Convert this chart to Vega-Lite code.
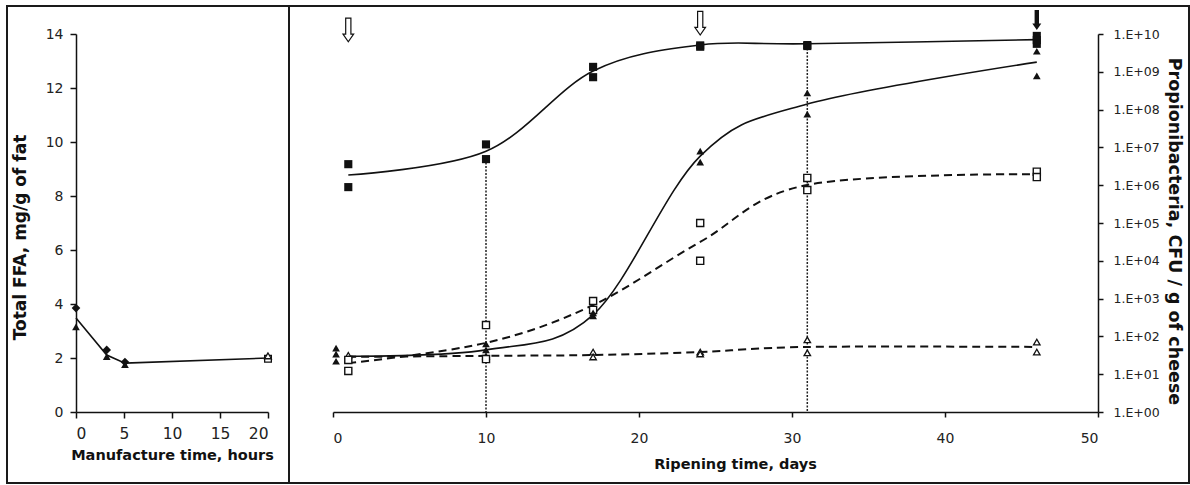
{
  "$schema": "https://vega.github.io/schema/vega-lite/v6.json",
  "padding": {"left": 6, "top": 5, "right": 0, "bottom": 0},
  "background": "white",
  "config": {
    "font": "DejaVu Sans",
    "view": {"stroke": "#1a1a1a", "strokeWidth": 2},
    "axis": {"grid": false, "domainColor": "#111", "tickColor": "#111", "labelColor": "#222", "titleColor": "#111", "domainWidth": 1.5, "tickWidth": 1.5, "titleFontWeight": "bold", "labelFont": "DejaVu Sans", "titleFont": "DejaVu Sans"}
  },
  "datasets": {
    "manuLine": [
      {"hours": 0, "ffa": 3.48},
      {"hours": 3.2, "ffa": 2.11},
      {"hours": 5.1, "ffa": 1.81},
      {"hours": 20, "ffa": 2.0}
    ],
    "manuPts": [
      {"hours": 0, "ffa": 3.85, "s": "A"},
      {"hours": 0, "ffa": 3.15, "s": "B"},
      {"hours": 3.2, "ffa": 2.3, "s": "A"},
      {"hours": 3.2, "ffa": 2.05, "s": "B"},
      {"hours": 5.1, "ffa": 1.85, "s": "A"},
      {"hours": 5.1, "ffa": 1.75, "s": "B"},
      {"hours": 20, "ffa": 1.97, "s": "C"},
      {"hours": 20, "ffa": 2.08, "s": "D"}
    ],
    "sqCurve": [
      {"day": 1, "cfu": 1.86e6},
      {"day": 10, "cfu": 7.9e6},
      {"day": 17, "cfu": 1.05e9},
      {"day": 24, "cfu": 5.1e9},
      {"day": 31, "cfu": 5.5e9},
      {"day": 46, "cfu": 7.1e9}
    ],
    "sqPts": [
      {"day": 1, "cfu": 3.6e6}, {"day": 1, "cfu": 8.9e5},
      {"day": 10, "cfu": 1.2e7}, {"day": 10, "cfu": 4.9e6},
      {"day": 17, "cfu": 1.35e9}, {"day": 17, "cfu": 7.2e8},
      {"day": 24, "cfu": 5.0e9}, {"day": 24, "cfu": 4.6e9},
      {"day": 31, "cfu": 5.1e9}, {"day": 31, "cfu": 4.8e9},
      {"day": 46, "cfu": 8.9e9}, {"day": 46, "cfu": 6.9e9}, {"day": 46, "cfu": 5.5e9}
    ],
    "trCurve": [
      {"day": 1, "cfu": 30},
      {"day": 10, "cfu": 44},
      {"day": 17, "cfu": 372},
      {"day": 24, "cfu": 5.9e6},
      {"day": 31, "cfu": 1.4e8},
      {"day": 46, "cfu": 1.8e9}
    ],
    "trPts": [
      {"day": 0.2, "cfu": 49}, {"day": 0.2, "cfu": 34}, {"day": 0.2, "cfu": 22},
      {"day": 10, "cfu": 63}, {"day": 10, "cfu": 44},
      {"day": 17, "cfu": 347}, {"day": 17, "cfu": 417},
      {"day": 24, "cfu": 8.0e6}, {"day": 24, "cfu": 4.1e6},
      {"day": 31, "cfu": 2.75e8}, {"day": 31, "cfu": 7.6e7},
      {"day": 46, "cfu": 3.5e9}, {"day": 46, "cfu": 7.8e8}
    ],
    "osCurve": [
      {"day": 1, "ffa": 1.81},
      {"day": 10, "ffa": 2.56},
      {"day": 17, "ffa": 3.96},
      {"day": 24, "ffa": 6.3},
      {"day": 31, "ffa": 8.41},
      {"day": 46, "ffa": 8.81}
    ],
    "osPts": [
      {"day": 1, "ffa": 1.93}, {"day": 1, "ffa": 1.52},
      {"day": 10, "ffa": 3.22}, {"day": 10, "ffa": 1.96},
      {"day": 17, "ffa": 4.11}, {"day": 17, "ffa": 3.78},
      {"day": 24, "ffa": 7.0}, {"day": 24, "ffa": 5.6},
      {"day": 31, "ffa": 8.67}, {"day": 31, "ffa": 8.22},
      {"day": 46, "ffa": 8.9}, {"day": 46, "ffa": 8.7}
    ],
    "otCurve": [
      {"day": 1, "ffa": 2.04},
      {"day": 10, "ffa": 2.08},
      {"day": 17, "ffa": 2.11},
      {"day": 24, "ffa": 2.22},
      {"day": 31, "ffa": 2.41},
      {"day": 46, "ffa": 2.41}
    ],
    "otPts": [
      {"day": 1, "ffa": 2.1}, {"day": 1, "ffa": 1.95},
      {"day": 10, "ffa": 2.05},
      {"day": 17, "ffa": 2.22}, {"day": 17, "ffa": 2.04},
      {"day": 24, "ffa": 2.22}, {"day": 24, "ffa": 2.15},
      {"day": 31, "ffa": 2.67}, {"day": 31, "ffa": 2.19},
      {"day": 46, "ffa": 2.59}, {"day": 46, "ffa": 2.22}
    ],
    "drops": [
      {"day": 10, "top": 4.9e6, "bottom": 1},
      {"day": 31, "top": 5.1e9, "bottom": 1}
    ],
    "arrows": [
      {"day": 1, "pos": 14.15, "kind": "open"},
      {"day": 24, "pos": 14.4, "kind": "open"},
      {"day": 46, "pos": 14.52, "kind": "filled"}
    ]
  },
  "spacing": 0,
  "bounds": "flush",
  "hconcat": [
    {
      "width": 282,
      "height": 477,
      "encoding": {
        "x": {"field": "hours", "type": "quantitative",
          "scale": {"domain": [0, 20], "range": [69, 261], "nice": false, "zero": false},
          "axis": {"title": "Manufacture time, hours", "offset": -71, "values": [0, 5, 10, 15, 20], "tickSize": 6, "labelPadding": 8, "labelFontSize": 15.5, "titleFontSize": 14.5, "titlePadding": 7}},
        "y": {"field": "ffa", "type": "quantitative",
          "scale": {"domain": [0, 14], "range": [406, 28], "nice": false, "zero": false},
          "axis": {"title": "Total FFA, mg/g of fat", "offset": -69, "values": [0, 2, 4, 6, 8, 10, 12, 14], "tickSize": 6, "labelPadding": 7, "labelFontSize": 14, "titleFontSize": 17, "titlePadding": 16, "titleY": 231}}
      },
      "layer": [
        {"data": {"name": "manuLine"}, "mark": {"type": "line", "color": "#111", "strokeWidth": 1.6}},
        {"data": {"name": "manuPts"}, "transform": [{"filter": "datum.s == 'A'"}],
          "mark": {"type": "point", "shape": "diamond", "filled": true, "color": "#111", "size": 75, "opacity": 1}},
        {"data": {"name": "manuPts"}, "transform": [{"filter": "datum.s == 'B'"}],
          "mark": {"type": "point", "shape": "triangle-up", "filled": true, "color": "#111", "size": 60, "opacity": 1}},
        {"data": {"name": "manuPts"}, "transform": [{"filter": "datum.s == 'C'"}],
          "mark": {"type": "point", "shape": "square", "filled": true, "fill": "white", "stroke": "#111", "strokeWidth": 1.3, "size": 45, "opacity": 1}},
        {"data": {"name": "manuPts"}, "transform": [{"filter": "datum.s == 'D'"}],
          "mark": {"type": "point", "shape": "triangle-up", "filled": true, "fill": "white", "stroke": "#111", "strokeWidth": 1.3, "size": 45, "opacity": 1}}
      ]
    },
    {
      "width": 900,
      "height": 477,
      "encoding": {
        "x": {"field": "day", "type": "quantitative",
          "scale": {"domain": [0, 50], "range": [44, 809], "nice": false, "zero": false},
          "axis": {"title": "Ripening time, days", "offset": -71, "values": [0, 10, 20, 30, 40, 50], "tickSize": 5, "labelPadding": 14, "labelFontSize": 14, "titleFontSize": 14.5, "titlePadding": 12, "titleX": 446}}
      },
      "layer": [
        {"data": {"name": "drops"},
          "mark": {"type": "rule", "color": "#222", "strokeWidth": 1.5, "strokeDash": [2, 1.5]},
          "encoding": {
            "y": {"field": "top", "type": "quantitative",
              "scale": {"type": "log", "domain": [1, 1e10], "range": [406, 28], "nice": false},
              "axis": {"title": "Propionibacteria, CFU / g of cheese", "orient": "right", "offset": -91,
                "values": [1, 10, 100, 1000, 10000, 100000, 1000000, 10000000, 100000000, 1000000000, 10000000000],
                "labelExpr": "'1.E+' + (round(log(datum.value)/LN10) < 10 ? '0' : '') + round(log(datum.value)/LN10)",
                "tickSize": 5, "labelPadding": 10, "labelFontSize": 12.5, "titleFontSize": 17.5, "titlePadding": 5, "titleY": 225}},
            "y2": {"field": "bottom"}
          }},
        {"data": {"name": "otCurve"},
          "mark": {"type": "line", "interpolate": "cardinal", "color": "#111", "strokeWidth": 2, "strokeDash": [8, 5]},
          "encoding": {"y": {"field": "ffa", "type": "quantitative", "scale": {"domain": [0, 14], "range": [406, 28], "nice": false, "zero": false}, "axis": null}}},
        {"data": {"name": "osCurve"},
          "mark": {"type": "line", "interpolate": "cardinal", "color": "#111", "strokeWidth": 2, "strokeDash": [8, 5]},
          "encoding": {"y": {"field": "ffa", "type": "quantitative", "scale": {"domain": [0, 14], "range": [406, 28], "nice": false, "zero": false}, "axis": null}}},
        {"data": {"name": "sqCurve"},
          "mark": {"type": "line", "interpolate": "cardinal", "color": "#111", "strokeWidth": 1.6},
          "encoding": {"y": {"field": "cfu", "type": "quantitative", "scale": {"type": "log", "domain": [1, 1e10], "range": [406, 28], "nice": false}, "axis": null}}},
        {"data": {"name": "trCurve"},
          "mark": {"type": "line", "interpolate": "cardinal", "color": "#111", "strokeWidth": 1.6},
          "encoding": {"y": {"field": "cfu", "type": "quantitative", "scale": {"type": "log", "domain": [1, 1e10], "range": [406, 28], "nice": false}, "axis": null}}},
        {"data": {"name": "otPts"},
          "mark": {"type": "point", "shape": "triangle-up", "filled": true, "fill": "white", "stroke": "#111", "strokeWidth": 1.3, "size": 42, "opacity": 1},
          "encoding": {"y": {"field": "ffa", "type": "quantitative", "scale": {"domain": [0, 14], "range": [406, 28], "nice": false, "zero": false}, "axis": null}}},
        {"data": {"name": "osPts"},
          "mark": {"type": "point", "shape": "square", "filled": true, "fill": "white", "stroke": "#111", "strokeWidth": 1.4, "size": 50, "opacity": 1},
          "encoding": {"y": {"field": "ffa", "type": "quantitative", "scale": {"domain": [0, 14], "range": [406, 28], "nice": false, "zero": false}, "axis": null}}},
        {"data": {"name": "sqPts"},
          "mark": {"type": "point", "shape": "square", "filled": true, "color": "#111", "size": 66, "opacity": 1},
          "encoding": {"y": {"field": "cfu", "type": "quantitative", "scale": {"type": "log", "domain": [1, 1e10], "range": [406, 28], "nice": false}, "axis": null}}},
        {"data": {"name": "trPts"},
          "mark": {"type": "point", "shape": "triangle-up", "filled": true, "color": "#111", "size": 60, "opacity": 1},
          "encoding": {"y": {"field": "cfu", "type": "quantitative", "scale": {"type": "log", "domain": [1, 1e10], "range": [406, 28], "nice": false}, "axis": null}}},
        {"data": {"name": "arrows"}, "transform": [{"filter": "datum.kind == 'open'"}],
          "mark": {"type": "point", "shape": "M-0.22,-1L0.22,-1L0.22,0.35L0.45,0.35L0,1L-0.45,0.35L-0.22,0.35Z", "filled": true, "fill": "white", "stroke": "#111", "strokeWidth": 1.2, "size": 560, "opacity": 1},
          "encoding": {"y": {"field": "pos", "type": "quantitative", "scale": {"domain": [0, 14], "range": [406, 28], "nice": false, "zero": false}, "axis": null}}},
        {"data": {"name": "arrows"}, "transform": [{"filter": "datum.kind == 'filled'"}],
          "mark": {"type": "point", "shape": "M-0.22,-1L0.22,-1L0.22,0.35L0.45,0.35L0,1L-0.45,0.35L-0.22,0.35Z", "filled": true, "color": "#111", "size": 400, "opacity": 1},
          "encoding": {"y": {"field": "pos", "type": "quantitative", "scale": {"domain": [0, 14], "range": [406, 28], "nice": false, "zero": false}, "axis": null}}}
      ],
      "resolve": {"scale": {"y": "independent"}, "axis": {"y": "independent"}}
    }
  ]
}
